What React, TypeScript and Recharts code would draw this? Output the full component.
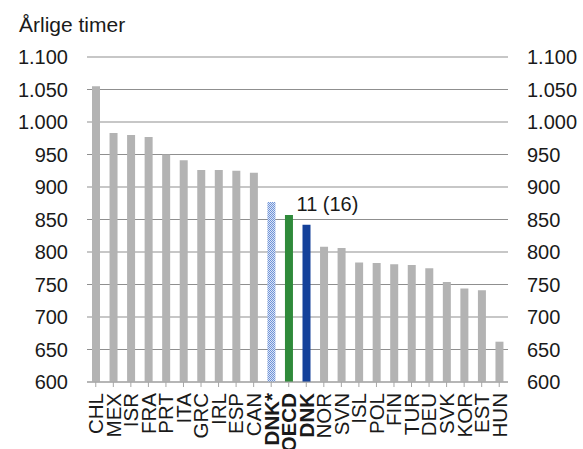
import { Bar, BarChart, CartesianGrid, Cell, LabelList, Line, XAxis, YAxis } from "recharts";

const countries = [
  "CHL", "MEX", "ISR", "FRA", "PRT", "ITA", "GRC", "IRL", "ESP", "CAN", "DNK*", "OECD",
  "DNK", "NOR", "SVN", "ISL", "POL", "FIN", "TUR", "DEU", "SVK", "KOR", "EST", "HUN",
];

const hours = [
  1055, 983, 980, 977, 950, 941, 926, 926, 925, 922, 877, 857,
  842, 808, 806, 784, 783, 781, 780, 775, 754, 744, 741, 662,
];

const boldNames = ["DNK*", "OECD", "DNK"];

const yTicks = [600, 650, 700, 750, 800, 850, 900, 950, 1000, 1050, 1100];

const rankNote = { country: "DNK", text: "11 (16)" };

const data = countries.map((country, i) => ({
  country,
  hours: hours[i],
  note: country === rankNote.country ? rankNote.text : "",
}));

const barColor = (country: string) => {
  if (country === "DNK*") return "url(#dnkDots)";
  if (country === "OECD") return "#2f8a3a";
  if (country === "DNK") return "#14419a";
  return "#b3b3b3";
};

const formatTick = (v: number) =>
  v >= 1000 ? `${Math.floor(v / 1000)}.${String(v % 1000).padStart(3, "0")}` : String(v);

const font = "'Liberation Sans', Arial, sans-serif";
const textColor = "#1a1a1a";

function CountryTick(props: any) {
  const { x, y, payload } = props;
  const bold = boldNames.includes(payload.value);
  return (
    <text
      x={x}
      y={y}
      transform={`rotate(-90, ${x}, ${y})`}
      textAnchor="end"
      dy="0.36em"
      fontSize={20.5}
      fontFamily={font}
      fontWeight={bold ? 700 : 400}
      fill={textColor}
    >
      {payload.value}
    </text>
  );
}

function NoteLabel(props: any) {
  const { x, y, value } = props;
  if (!value) return null;
  return (
    <text x={x - 6} y={y - 14} fontSize={20} fontFamily={font} fill={textColor}>
      {value}
    </text>
  );
}

export default function App() {
  return (
    <div style={{ position: "absolute", left: 0, top: 0, width: 583, height: 449, background: "#fff" }}>
      <div
        style={{
          position: "absolute",
          left: 19,
          top: 13,
          fontFamily: font,
          fontSize: 21,
          lineHeight: "24px",
          color: textColor,
        }}
      >
        Årlige timer
      </div>
      <BarChart
        width={583}
        height={449}
        data={data}
        margin={{ top: 57, right: 0, bottom: 0, left: 0 }}
        barSize={8}
      >
        <defs>
          <pattern id="dnkDots" width="2" height="2" patternUnits="userSpaceOnUse">
            <rect width="2" height="2" fill="#dbe5f6" />
            <rect width="1" height="1" fill="#6f93d8" />
            <rect x="1" y="1" width="1" height="1" fill="#6f93d8" />
          </pattern>
        </defs>
        <CartesianGrid
          yAxisId="left"
          vertical={false}
          stroke="#8f8f8f"
          strokeWidth={1.2}
        />
        <XAxis
          dataKey="country"
          interval={0}
          height={67}
          tick={<CountryTick />}
          tickSize={5}
          tickMargin={6}
          axisLine={{ stroke: "#a6a6a6", strokeWidth: 1.2 }}
          tickLine={{ stroke: "#a6a6a6" }}
        />
        <YAxis
          yAxisId="left"
          width={87}
          domain={[600, 1100]}
          ticks={yTicks}
          tickFormatter={formatTick}
          axisLine={false}
          tickLine={false}
          tickSize={0}
          tickMargin={19}
          tick={{ fontSize: 20, fontFamily: font, fill: textColor }}
        />
        <YAxis
          yAxisId="right"
          orientation="right"
          width={75}
          domain={[600, 1100]}
          ticks={yTicks}
          tickFormatter={formatTick}
          axisLine={false}
          tickLine={false}
          tickSize={0}
          tickMargin={19}
          tick={{ fontSize: 20, fontFamily: font, fill: textColor, textAnchor: "start" }}
        />
        <Bar yAxisId="left" dataKey="hours" isAnimationActive={false}>
          {data.map((d) => (
            <Cell key={d.country} fill={barColor(d.country)} />
          ))}
          <LabelList dataKey="note" content={<NoteLabel />} />
        </Bar>
        <Line
          yAxisId="right"
          dataKey="hours"
          stroke="none"
          dot={false}
          activeDot={false}
          legendType="none"
          isAnimationActive={false}
        />
      </BarChart>
    </div>
  );
}
